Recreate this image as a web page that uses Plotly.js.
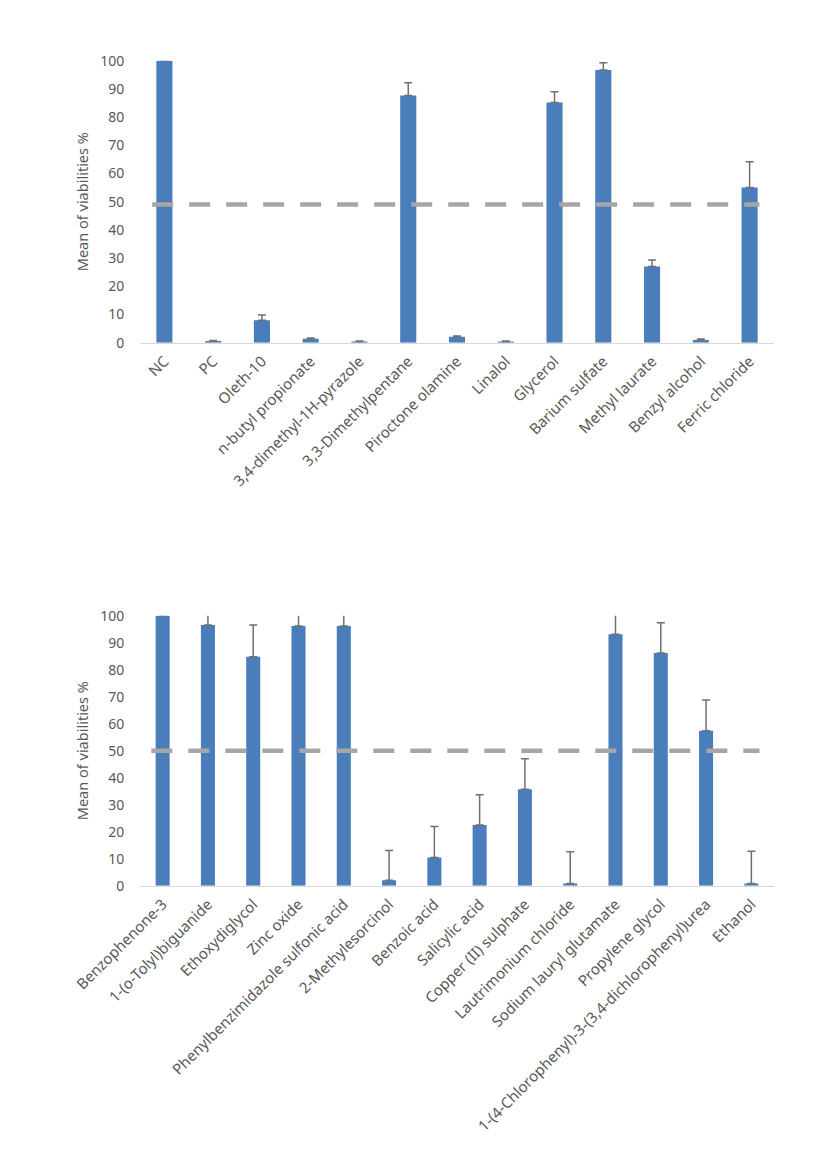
<!DOCTYPE html>
<html>
<head>
<meta charset="utf-8">
<script src="https://cdn.plot.ly/plotly-3.0.1.min.js"></script>
<style>html,body{margin:0;padding:0;background:#fff;}#chart{width:830px;height:1157px;}</style>
</head>
<body>
<div id="chart"></div>
<script>
// ---- Data: top chart ----
const topCategories = ["NC", "PC", "Oleth-10", "n-butyl propionate", "3,4-dimethyl-1H-pyrazole",
  "3,3-Dimethylpentane", "Piroctone olamine", "Linalol", "Glycerol", "Barium sulfate",
  "Methyl laurate", "Benzyl alcohol", "Ferric chloride"];
const topMeans = [100, 0.6, 8.0, 1.4, 0.4, 87.7, 2.1, 0.4, 85.2, 96.7, 27.0, 1.0, 55.0];
const topErrors = [0, 0.2, 1.8, 0.3, 0.2, 4.5, 0.3, 0.2, 3.8, 2.6, 2.3, 0.3, 9.2];
const topThreshold = 49;

// ---- Data: bottom chart ----
const bottomCategories = ["Benzophenone-3", "1-(o-Tolyl)biguanide", "Ethoxydiglycol", "Zinc oxide",
  "Phenylbenzimidazole sulfonic acid", "2-Methylesorcinol", "Benzoic acid", "Salicylic acid",
  "Copper (II) sulphate", "Lautrimonium chloride", "Sodium lauryl glutamate", "Propylene glycol",
  "1-(4-Chlorophenyl)-3-(3,4-dichlorophenyl)urea", "Ethanol"];
const bottomMeans = [100, 96.6, 84.8, 96.2, 96.2, 2.0, 10.4, 22.5, 35.7, 0.8, 93.1, 86.2, 57.4, 0.8];
const bottomErrors = [0, 11.3, 11.8, 11.3, 11.3, 11.0, 11.5, 11.2, 11.3, 11.8, 11.3, 11.2, 11.4, 12.0];
const bottomThreshold = 50;

const yTitle = "Mean of viabilities %";

const barColor = "#4a7ebb";
const errColor = "#707070";
const textColor = "#595959";
const FONT = "'Noto Sans', 'Open Sans', sans-serif";

const traces = [
  {
    type: "bar", x: topCategories, y: topMeans, xaxis: "x", yaxis: "y",
    width: 0.33, marker: {color: barColor}, showlegend: false, hoverinfo: "x+y",
    error_y: {type: "data", symmetric: false, array: topErrors,
      arrayminus: topErrors.map(() => 0), color: errColor, thickness: 1.5, width: 4}
  },
  {
    type: "bar", x: bottomCategories, y: bottomMeans, xaxis: "x2", yaxis: "y2",
    width: 0.31, marker: {color: barColor}, showlegend: false, hoverinfo: "x+y",
    error_y: {type: "data", symmetric: false, array: bottomErrors,
      arrayminus: bottomErrors.map(() => 0), color: errColor, thickness: 1.5, width: 4}
  }
];

function xAxis(anchor, n) {
  return {
    anchor: anchor, type: "category", range: [-0.5, n - 0.5],
    tickangle: -45, showline: true, linecolor: "#d9d9d9", linewidth: 1,
    ticks: "outside", ticklen: 3, tickcolor: "rgba(0,0,0,0)",
    showgrid: false, zeroline: false, fixedrange: true,
    tickfont: {family: FONT, size: 15, color: textColor}
  };
}
function yAxis(domain) {
  return {
    domain: domain, range: [0, 100], dtick: 10, tick0: 0,
    showgrid: false, zeroline: false, showline: false,
    ticks: "outside", ticklen: 12, tickcolor: "rgba(0,0,0,0)",
    tickfont: {family: FONT, size: 14, color: textColor},
    title: {text: yTitle, font: {family: FONT, size: 14.5, color: textColor}, standoff: 8},
    fixedrange: true
  };
}

const H = 1157;
const layout = {
  width: 830, height: H,
  margin: {l: 140, r: 56, t: 0, b: 0},
  paper_bgcolor: "#ffffff", plot_bgcolor: "#ffffff",
  font: {family: FONT, color: textColor},
  xaxis: xAxis("y", topCategories.length),
  yaxis: yAxis([(H - 342.7) / H, (H - 60.7) / H]),
  xaxis2: xAxis("y2", bottomCategories.length),
  yaxis2: yAxis([(H - 885.7) / H, (H - 615.7) / H]),
  shapes: [
    {type: "line", xref: "x", yref: "y", x0: -0.25, x1: topCategories.length - 1 + 0.2,
      y0: topThreshold, y1: topThreshold,
      line: {color: "#a6a6a6", width: 4.5, dash: "21px,16px"}},
    {type: "line", xref: "x2", yref: "y2", x0: -0.25, x1: bottomCategories.length - 1 + 0.18,
      y0: bottomThreshold, y1: bottomThreshold,
      line: {color: "#a6a6a6", width: 4.5, dash: "21px,16px"}}
  ]
};

Plotly.newPlot("chart", traces, layout, {displayModeBar: false, staticPlot: true});
</script>
</body>
</html>
